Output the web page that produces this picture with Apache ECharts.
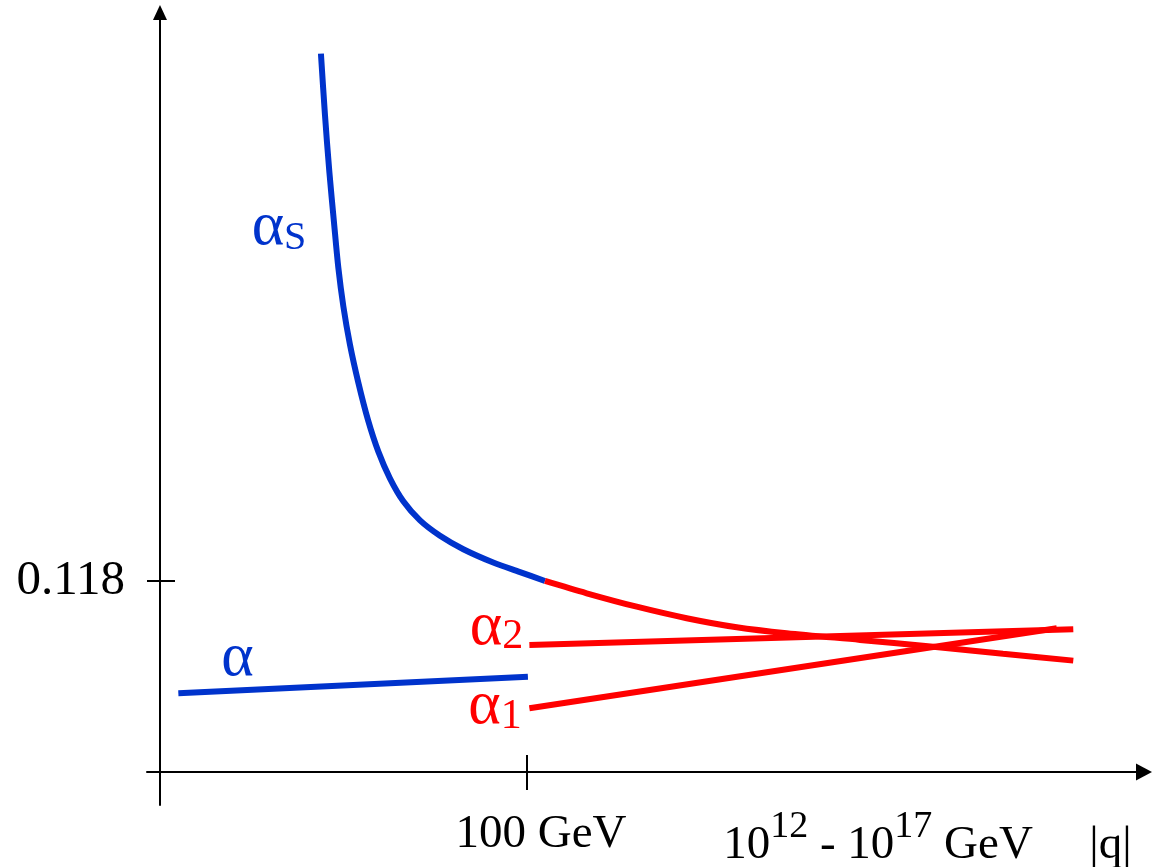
<!DOCTYPE html>
<html lang="en">

<head>
    <meta charset="UTF-8">
    <title>Running couplings</title>
    <script src="https://cdn.jsdelivr.net/npm/echarts@6/dist/echarts.min.js"></script>
    <style>
        * {
            padding: 0;
            margin: 0;
        }

        #chart {
            width: 1153px;
            height: 867px;
            background: #fff;
        }
    </style>
</head>

<body>
    <div id="chart"></div>
    <script type="text/javascript">
        // x: schematic log|q| (100 GeV at 2), y: coupling strength
        const alphaEm = [[0.10, 0.0487], [2.005, 0.0589]];
        const alphaStrong = [
            [0.877, 0.4438], [0.899, 0.4060], [0.923, 0.3706], [0.948, 0.3398],
            [0.972, 0.3114], [0.999, 0.2878], [1.035, 0.2642], [1.081, 0.2405],
            [1.135, 0.2169], [1.190, 0.1979], [1.253, 0.1814], [1.326, 0.1672],
            [1.417, 0.1554], [1.526, 0.1459], [1.653, 0.1376], [1.816, 0.1294],
            [1.962, 0.1235], [2.098, 0.118]
        ];
        const alpha3 = [
            [2.098, 0.118], [2.325, 0.1104], [2.598, 0.1021], [2.870, 0.0950],
            [3.143, 0.0894], [3.415, 0.0857], [3.815, 0.0816], [4.214, 0.0774],
            [4.594, 0.0731], [4.977, 0.0688]
        ];
        const alpha2 = [[2.013, 0.0785], [4.977, 0.0882]];
        const alpha1 = [[2.013, 0.0394], [4.887, 0.0888]];

        const yTicks = [0.118];
        const yTickLabels = ['0.118'];
        const xTicks = [2];
        const xLabelValues = [2.076, 3.913, 5.18];
        const xLabelTexts = ['{m|100 GeV}', '{g|}{m|10}{s|12}{m| - 10}{s|17}{m| GeV}', '{g|}{m||q|}'];

        // curve names: anchor in data units + rich text
        const nameSpots = [[0.6485, 0.3361], [0.4223, 0.0766], [1.834, 0.0893], [1.826, 0.0402]];
        const nameTexts = ['{ab|α}{g|}{sb|S}', '{ab|α}', '{ar|α}{g|}{sr|2}', '{ar|α}{g|}{sr|1}'];

        const FONT = "'Liberation Serif', 'Times New Roman', serif";
        const BLUE = '#0033cc';
        const RED = '#ff0000';

        const xMin = -0.0708, xMax = 5.3624;
        const yMin = -0.0204, yMax = 0.4692;

        var myChart = echarts.init(document.getElementById('chart'));

        function curve(data, color, smooth) {
            return {
                type: 'line',
                data: data,
                smooth: smooth,
                symbol: 'none',
                silent: true,
                lineStyle: { color: color, width: 6 }
            };
        }

        const tickStyle = { color: '#000', width: 2 };

        option = {
            animation: false,
            grid: { left: 147, top: 12.5, width: 997, height: 792.5, outerBoundsMode: 'none' },
            xAxis: [{
                type: 'value', min: xMin, max: xMax,
                axisLine: {
                    onZero: true, onZeroAxisIndex: 0,
                    symbol: ['none', 'triangle'], symbolSize: [17, 16],
                    lineStyle: { color: '#000', width: 2 }
                },
                axisTick: { show: true, customValues: xTicks, length: 18, lineStyle: tickStyle },
                axisLabel: {
                    customValues: xLabelValues,
                    margin: 3,
                    fontFamily: FONT,
                    formatter: function (v) {
                        return xLabelTexts[xLabelValues.indexOf(v)];
                    },
                    rich: {
                        m: { fontFamily: FONT, fontSize: 47, color: '#000', lineHeight: 50, verticalAlign: 'bottom' },
                        s: { fontFamily: FONT, fontSize: 38, color: '#000', lineHeight: 38, verticalAlign: 'top' },
                        g: { lineHeight: 61 }
                    }
                },
                splitLine: { show: false }
            }, {
                type: 'value', min: xMin, max: xMax, position: 'bottom',
                axisLine: { show: true, onZero: true, onZeroAxisIndex: 1, lineStyle: { opacity: 0 } },
                axisTick: { show: true, inside: true, customValues: xTicks, length: 17, lineStyle: tickStyle },
                axisLabel: { show: false },
                splitLine: { show: false }
            }],
            yAxis: [{
                type: 'value', min: yMin, max: yMax,
                axisLine: {
                    onZero: true, onZeroAxisIndex: 0,
                    symbol: ['none', 'triangle'], symbolSize: [14, 15],
                    lineStyle: { color: '#000', width: 2 }
                },
                axisTick: { show: true, customValues: yTicks, length: 13, lineStyle: tickStyle },
                axisLabel: {
                    customValues: yTicks,
                    margin: 22,
                    formatter: function (v) {
                        return yTickLabels[yTicks.indexOf(v)];
                    },
                    fontFamily: FONT, fontSize: 49, color: '#000'
                },
                splitLine: { show: false }
            }, {
                type: 'value', min: yMin, max: yMax, position: 'left',
                axisLine: { show: true, onZero: true, onZeroAxisIndex: 1, lineStyle: { opacity: 0 } },
                axisTick: { show: true, inside: true, customValues: yTicks, length: 15, lineStyle: tickStyle },
                axisLabel: { show: false },
                splitLine: { show: false }
            }],
            series: [
                curve(alphaEm, BLUE, false),
                curve(alphaStrong, BLUE, 0.3),
                curve(alpha3, RED, 0.3),
                curve(alpha2, RED, false),
                curve(alpha1, RED, false),
                {
                    type: 'scatter',
                    data: nameSpots,
                    symbolSize: 0,
                    silent: true,
                    itemStyle: { opacity: 1 },
                    label: {
                        show: true,
                        position: [0, 0],
                        align: 'center',
                        verticalAlign: 'middle',
                        opacity: 1,
                        fontFamily: FONT,
                        textBorderWidth: 0,
                        formatter: function (p) {
                            return nameTexts[p.dataIndex];
                        },
                        rich: {
                            ab: { fontFamily: FONT, fontSize: 62, color: BLUE, verticalAlign: 'top', lineHeight: 40 },
                            sb: { fontFamily: FONT, fontSize: 40, color: BLUE, verticalAlign: 'bottom', lineHeight: 40 },
                            ar: { fontFamily: FONT, fontSize: 62, color: RED, verticalAlign: 'top', lineHeight: 40 },
                            sr: { fontFamily: FONT, fontSize: 42, color: RED, verticalAlign: 'bottom', lineHeight: 40 },
                            g: { lineHeight: 62 }
                        }
                    }
                }
            ]
        };

        myChart.setOption(option);
    </script>
</body>

</html>
